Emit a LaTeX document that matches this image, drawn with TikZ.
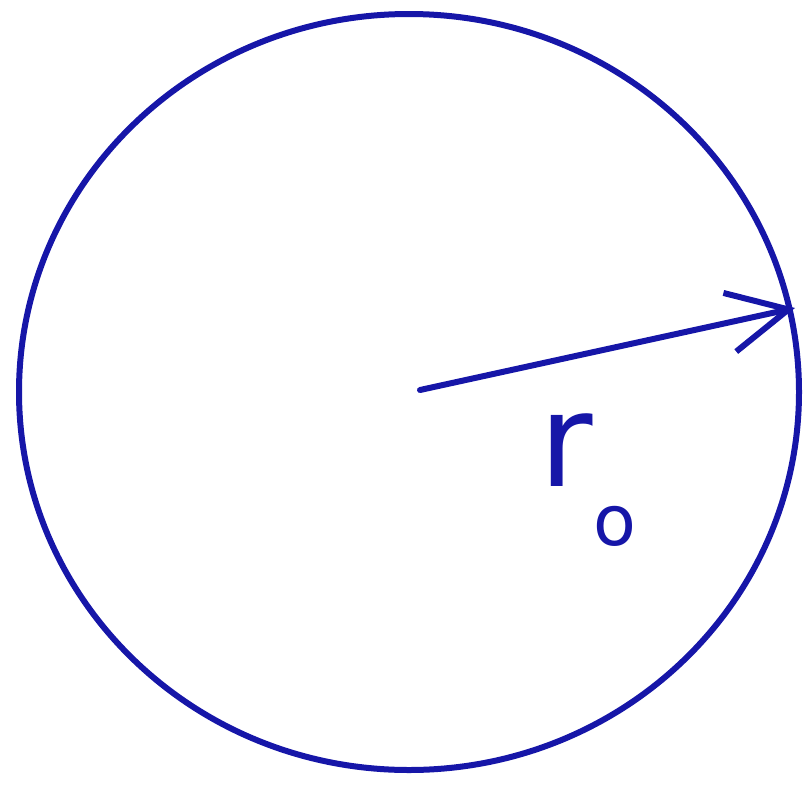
\documentclass[tikz,border=0pt]{standalone}
\usepackage{fontspec}
\setmainfont{DejaVu Sans}
\usetikzlibrary{arrows.meta}
\definecolor{ink}{RGB}{22,22,168}
\begin{document}
\begin{tikzpicture}[x=1pt,y=-1pt,
  stroke/.style={draw=ink,line width=6pt,line cap=round,line join=round},
  lbl/.style={text=ink,inner sep=0pt,font=\fontsize{130}{130}\selectfont}]
\useasboundingbox (0,0) rectangle (810,798);
\coordinate (c) at (420,390);
\draw[stroke] (409,392) ellipse [x radius=390, y radius=378];
\coordinate (e) at (795,308);
\draw[stroke,-{Straight Barb[length=60pt,width=60pt,line width=6pt]}] (c) -- (e);
\node[lbl,anchor=center] (r) at (588,480) {r\raisebox{-0.45em}{\fontsize{70}{70}\selectfont o}};
\end{tikzpicture}
\end{document}
